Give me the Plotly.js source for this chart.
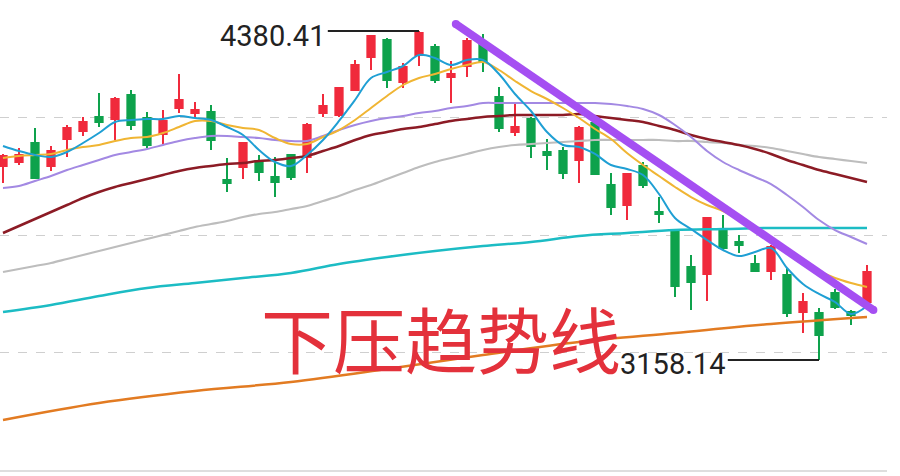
<!DOCTYPE html>
<html><head><meta charset="utf-8">
<script src="https://cdn.plot.ly/plotly-3.0.1.min.js"></script>
<style>html,body{margin:0;padding:0;background:#fff;}#chart{width:900px;height:476px;}</style>
</head><body><div id="chart"></div>
<script>
// candle index (trading day)
const days = Array.from({length: 55}, (_, i) => i);

const open = [3878.9,3893.8,3964.3,3878.9,3979.2,4008.9,4060.9,4053.5,4142.7,4057.2,
 3997.8,4094.4,4075.8,4079.5,3826.9,3875.2,3897.5,3838.0,3919.8,3912.3,
 4075.8,4068.4,4161.2,4283.8,4347.0,4191.0,4291.3,4321.0,4209.5,4250.4,
 4328.4,4135.2,4005.2,4053.5,3930.9,3934.6,3901.2,4038.6,3808.3,3734.0,
 3878.9,3708.0,3633.7,3503.7,3477.7,3637.4,3596.5,3514.8,3488.8,3473.9,
 3336.5,3332.8,3407.1,3336.5,3373.6];
const high = [3923.5,3945.8,4020.1,3953.2,4031.2,4060.9,4150.1,4135.2,4161.2,4079.5,
 4086.9,4220.7,4116.7,4105.5,3908.6,3966.0,3919.8,3912.3,3923.5,4038.6,
 4146.4,4172.4,4272.7,4363.6,4354.4,4261.5,4380.41,4332.1,4269.0,4354.4,
 4369.3,4172.4,4116.7,4060.9,3979.2,3949.5,4027.5,4042.4,3852.9,3852.9,
 3893.8,3763.7,3636.0,3548.2,3689.4,3696.9,3622.6,3548.2,3585.4,3500.0,
 3407.1,3351.3,3421.9,3343.9,3511.1];
const low = [3815.7,3882.6,3832.0,3860.3,3912.3,3990.3,4023.8,3975.5,4012.6,3945.8,
 3960.6,4075.8,4057.2,3938.3,3782.3,3830.6,3823.2,3763.7,3826.9,3852.9,
 4060.9,4060.9,4157.5,4235.5,4168.7,4168.7,4250.4,4187.2,4112.9,4209.5,
 4228.1,4005.2,3990.3,3908.6,3864.0,3830.6,3815.7,3845.5,3696.9,3678.3,
 3797.2,3667.1,3392.2,3343.9,3377.4,3566.8,3555.7,3485.1,3455.4,3317.9,
 3258.5,3158.14,3347.6,3288.2,3369.9];
const close = [3916.0,3919.8,3834.3,3934.6,4020.1,4042.4,4042.4,4127.8,4031.2,3956.9,
 4046.1,4124.1,4086.9,3975.5,3815.7,3964.3,3856.6,3819.5,3838.0,4031.2,
 4101.8,4168.7,4254.1,4361.9,4198.4,4246.7,4373.0,4198.4,4220.7,4343.3,
 4265.3,4020.1,4023.8,3953.2,3919.8,3852.9,4020.1,3849.2,3726.6,3849.2,
 3808.3,3700.6,3433.1,3447.9,3685.7,3574.3,3585.4,3488.8,3578.0,3332.8,
 3373.6,3251.0,3355.1,3325.3,3485.1];

// moving averages
const maBlue = [3953.2,3934.6,3919.8,3912.3,3930.9,3964.3,4001.5,4042.4,4049.8,4053.5,
 4053.5,4064.6,4057.2,4049.8,4023.8,3994.1,3938.3,3893.8,3878.9,3919.8,
 3975.5,4046.1,4124.1,4205.8,4228.1,4250.4,4291.3,4280.1,4254.1,4272.7,
 4272.7,4220.7,4146.4,4083.2,4005.2,3956.9,3949.5,3923.5,3882.6,3867.8,
 3845.5,3774.9,3685.7,3644.8,3604.0,3566.8,3544.5,3559.4,3574.3,3500.0,
 3440.5,3403.4,3373.6,3329.1,3358.8];
const maYellow = [3908.6,3916.0,3919.8,3923.5,3938.3,3949.5,3956.9,3971.8,3982.9,3986.6,
 4001.5,4023.8,4046.1,4046.1,4031.2,4020.1,4012.6,3982.9,3960.6,3960.6,
 3986.6,4012.6,4049.8,4094.4,4139.0,4179.8,4205.8,4220.7,4239.3,4254.1,
 4265.3,4235.5,4194.7,4157.5,4127.8,4094.4,4057.2,4016.4,3979.2,3927.2,
 3882.6,3841.7,3800.9,3763.7,3734.0,3711.7,3678.3,3637.4,3604.0,3566.8,
 3526.0,3488.8,3462.8,3444.2,3429.4];
const maPurple = [3797.2,3804.6,3823.2,3841.7,3864.0,3882.6,3901.2,3919.8,3930.9,3942.1,
 3956.9,3971.8,3982.9,3990.4,3990.4,3986.6,3982.9,3975.5,3971.8,3971.8,
 3990.4,4012.6,4031.2,4046.1,4057.2,4064.6,4075.8,4083.2,4094.4,4101.8,
 4112.9,4112.9,4112.9,4112.9,4112.9,4112.9,4112.9,4112.9,4109.2,4101.8,
 4090.7,4068.4,4031.2,3986.6,3934.6,3893.8,3864.0,3838.0,3812.0,3771.2,
 3726.6,3678.3,3641.1,3615.1,3589.1];
const maDarkRed = [3630.0,3656.0,3682.0,3708.0,3734.0,3760.0,3782.3,3800.9,3815.7,3830.6,
 3845.5,3860.3,3871.5,3878.9,3886.3,3890.0,3897.5,3901.2,3908.6,3916.0,
 3934.6,3953.2,3975.5,3994.1,4005.2,4016.4,4023.8,4034.9,4046.1,4053.5,
 4060.9,4064.6,4068.4,4068.4,4068.4,4068.4,4072.1,4064.6,4057.2,4049.8,
 4042.4,4027.5,4012.6,3994.1,3979.2,3968.1,3956.9,3942.1,3923.5,3901.2,
 3882.6,3864.0,3849.2,3834.3,3819.5];
const maGray = [3485.1,3496.2,3507.4,3518.5,3533.4,3548.2,3563.1,3578.0,3592.8,3607.7,
 3622.6,3637.4,3652.3,3663.4,3674.6,3689.4,3700.6,3708.0,3719.1,3730.3,
 3748.9,3767.4,3789.7,3808.3,3830.6,3852.9,3875.2,3893.8,3908.6,3923.5,
 3938.3,3949.5,3956.9,3960.6,3964.3,3968.1,3971.8,3975.5,3975.5,3975.5,
 3975.5,3975.5,3971.8,3971.8,3968.1,3964.3,3956.9,3953.2,3945.8,3934.6,
 3923.5,3912.3,3904.9,3897.5,3890.0];
const tealDays = [0,3,6,9,12,15,18,21,24,27,30,33,36,39,42,45,48,51,54];
const maTeal = [3336.5,3362.5,3395.9,3425.7,3444.2,3462.8,3481.4,3514.8,3540.8,3563.1,
 3581.7,3596.5,3618.8,3630.0,3641.1,3644.8,3648.6,3648.6,3648.6];
const orangeDays = [0,6,12,18,24,30,36,42,48,54];
const maOrange = [2935.3,2998.4,3043.0,3076.4,3124.7,3176.7,3225.0,3258.5,3291.9,3317.9];

// hand-drawn downward trend line and labels
const trendDays = [28.3, 54.4];
const trendPrices = [4406.4, 3343.9];
const highLabel = '4380.41', highValue = 4380.41, highLineDays = [20.3, 26];
const lowLabel = '3158.14', lowValue = 3158.14, lowLineDays = [45.3, 51];
const caption = '下压趋势线';

const RED = '#f02a3c', GREEN = '#0ea24c';

function maTrace(x, y, color, width) {
  return {type: 'scatter', mode: 'lines', x: x, y: y, hoverinfo: 'skip',
    line: {color: color, width: width, shape: 'spline', smoothing: 1}, showlegend: false};
}

const data = [
  {type: 'candlestick', x: days, open: open, high: high, low: low, close: close,
   increasing: {line: {color: RED, width: 2}, fillcolor: RED},
   decreasing: {line: {color: GREEN, width: 2}, fillcolor: GREEN},
   whiskerwidth: 0, showlegend: false, hoverinfo: 'skip'},
  maTrace(orangeDays, maOrange, '#e27b22', 2.5),
  maTrace(tealDays, maTeal, '#1cbcc4', 2.5),
  maTrace(days, maGray, '#bdbdbd', 2.2),
  maTrace(days, maDarkRed, '#8c1b25', 2.5),
  maTrace(days, maPurple, '#a389e3', 2),
  maTrace(days, maYellow, '#f0b533', 2),
  maTrace(days, maBlue, '#1f9fd4', 2),
  {type: 'scatter', mode: 'lines', x: highLineDays, y: [highValue, highValue],
   line: {color: '#222', width: 2}, hoverinfo: 'skip', showlegend: false},
  {type: 'scatter', mode: 'lines', x: lowLineDays, y: [lowValue, lowValue],
   line: {color: '#222', width: 2}, hoverinfo: 'skip', showlegend: false},
  {type: 'scatter', mode: 'lines+markers', x: trendDays, y: trendPrices,
   line: {color: '#a54ff2', width: 8}, marker: {color: '#a54ff2', size: 8},
   hoverinfo: 'skip', showlegend: false}
];

const layout = {
  width: 900, height: 476,
  margin: {l: 0, r: 13, t: 0, b: 6},
  paper_bgcolor: '#fff', plot_bgcolor: '#fff',
  showlegend: false,
  boxgap: 0.35,
  xaxis: {range: [-0.1875, 55.25], showgrid: false, zeroline: false, showticklabels: false,
    showline: true, mirror: true, linecolor: '#dedede', linewidth: 2,
    rangeslider: {visible: false}, fixedrange: true},
  yaxis: {range: [2749.5, 4495.6], tick0: 2749.5, dtick: 436.525, showgrid: true,
    gridcolor: '#cfcfcf', griddash: 'dash', gridwidth: 1, zeroline: false,
    showticklabels: false, showline: false, fixedrange: true},
  annotations: [
    {x: 20.0, y: highValue, xref: 'x', yref: 'y', text: highLabel, showarrow: false,
     xanchor: 'right', yanchor: 'middle', yshift: -5, xshift: 4,
     font: {family: 'Roboto, sans-serif', size: 29, color: '#222'}},
    {x: 45.06, y: lowValue, xref: 'x', yref: 'y', text: lowLabel, showarrow: false,
     xanchor: 'right', yanchor: 'middle', yshift: -4, xshift: 3,
     font: {family: 'Roboto, sans-serif', size: 29, color: '#222'}},
    {x: 0.4972, y: 0.283, xref: 'paper', yref: 'paper', text: caption, showarrow: false,
     xanchor: 'center', yanchor: 'middle',
     font: {family: '"Noto Sans CJK SC", sans-serif', size: 72, color: '#e3313b'}}
  ]
};

Plotly.newPlot('chart', data, layout, {displayModeBar: false, staticPlot: true});
</script></body></html>
